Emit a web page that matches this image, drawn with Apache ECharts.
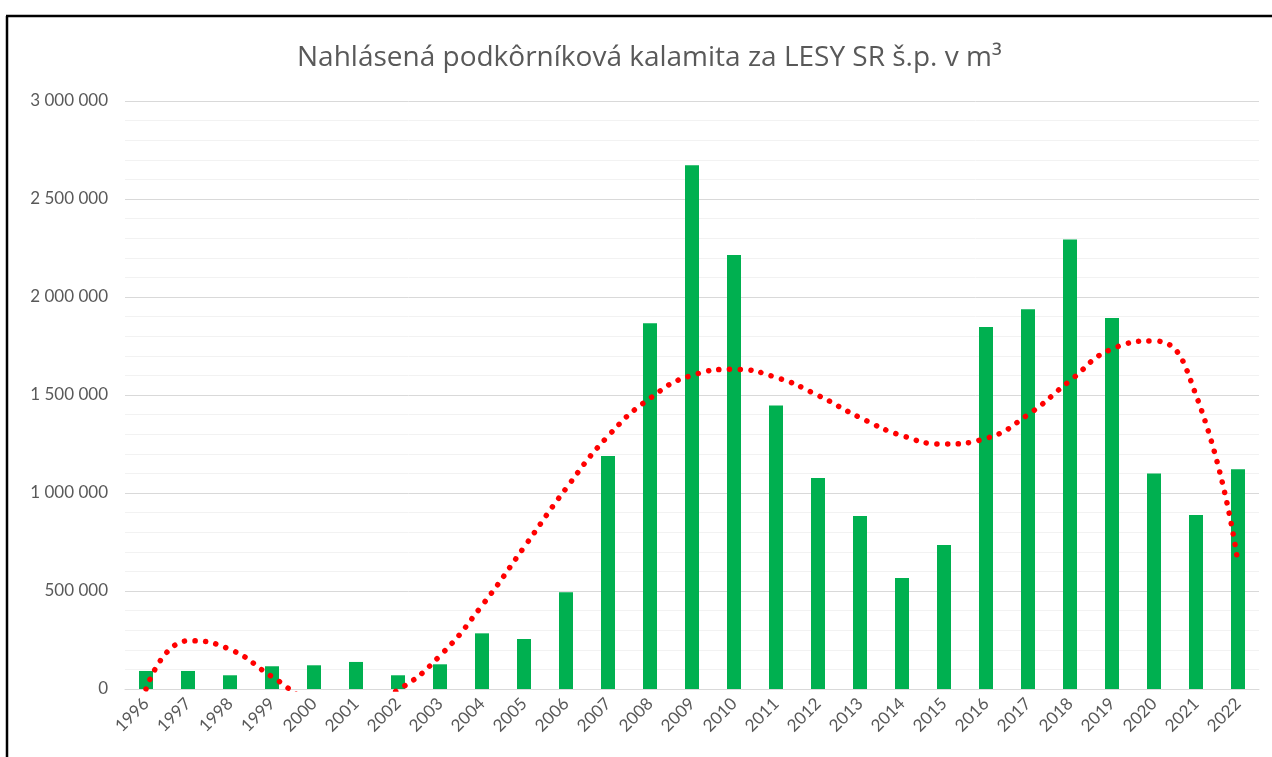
<!DOCTYPE html>
<html>
<head>
<meta charset="utf-8">
<script src="https://cdn.jsdelivr.net/npm/echarts@6/dist/echarts.min.js"></script>
<style>
  html, body { margin: 0; padding: 0; background: #fff; }
  #chart { width: 1272px; height: 757px; }
</style>
</head>
<body>
<div id="chart"></div>
<script>
  // roky
  var years = ['1996', '1997', '1998', '1999', '2000', '2001', '2002', '2003', '2004', '2005',
    '2006', '2007', '2008', '2009', '2010', '2011', '2012', '2013', '2014', '2015',
    '2016', '2017', '2018', '2019', '2020', '2021', '2022']
  // nahlásená kalamita v m3 (odčítané z grafu)
  var kalamita = [92000, 92000, 70000, 116000, 121000, 138000, 70000, 126000, 284000, 255000,
    493000, 1189000, 1866000, 2672000, 2214000, 1447000, 1077000, 883000, 566000, 735000,
    1847000, 1937000, 2294000, 1893000, 1100000, 888000, 1121000]
  // polynomický trend (odčítaný z grafu, pod nulou sa oreže)
  var trend = [0, 246000, 202000, 63000, -65000, -95000, -5000, 170000, 426000, 723000,
    1023000, 1290000, 1483000, 1600000, 1631000, 1590000, 1498000, 1385000, 1293000, 1250000,
    1279000, 1400000, 1573000, 1735000, 1776000, 1500000, 641000]
  var yTicks = [0, 500000, 1000000, 1500000, 2000000, 2500000, 3000000]

  var font = 'Lato, "Noto Sans", sans-serif'
  var textColor = '#595959'

  function fmt (v) {
    return String(v).replace(/\B(?=(\d{3})+(?!\d))/g, ' ')
  }

  var chart = echarts.init(document.getElementById('chart'))
  chart.setOption({
    backgroundColor: '#fff',
    animation: false,
    title: {
      text: 'Nahlásená podkôrníková kalamita za LESY SR š.p. v m³',
      left: 292,
      top: 39,
      textStyle: {
        fontFamily: '"Open Sans", Lato, sans-serif',
        fontWeight: 'normal',
        fontSize: 28,
        color: textColor
      }
    },
    graphic: [
      { type: 'line', shape: { x1: 7, y1: 16, x2: 7, y2: 757 }, style: { stroke: '#000', lineWidth: 2.5 } },
      { type: 'line', shape: { x1: 6, y1: 16, x2: 1272, y2: 16 }, style: { stroke: '#000', lineWidth: 2.5 } }
    ],
    grid: {
      left: 125,
      right: 13,
      top: 101,
      bottom: 68,
      containLabel: false
    },
    xAxis: {
      type: 'category',
      data: years,
      boundaryGap: true,
      axisTick: { show: false },
      axisLine: { show: true, lineStyle: { color: '#d9d9d9', width: 1 } },
      axisLabel: {
        rotate: 45,
        interval: 0,
        margin: 12,
        fontFamily: font,
        fontSize: 17,
        color: textColor
      }
    },
    yAxis: {
      type: 'value',
      min: yTicks[0],
      max: yTicks[yTicks.length - 1],
      interval: 500000,
      axisLine: { show: false },
      axisTick: { show: false },
      axisLabel: {
        margin: 17,
        fontFamily: font,
        fontSize: 17,
        color: textColor,
        formatter: fmt
      },
      splitLine: { show: true, lineStyle: { color: '#d9d9d9', width: 1 } },
      minorTick: { show: false, splitNumber: 5 },
      minorSplitLine: { show: true, lineStyle: { color: '#f2f2f2', width: 1 } }
    },
    series: [
      {
        name: 'kalamita',
        type: 'bar',
        data: kalamita,
        barWidth: 14,
        itemStyle: { color: '#00b050' }
      },
      {
        name: 'trend',
        type: 'line',
        data: trend,
        smooth: 0.5,
        clip: true,
        showSymbol: false,
        symbol: 'none',
        lineStyle: {
          color: '#ff0000',
          width: 5.5,
          type: [0.1, 10.5],
          cap: 'round'
        },
        z: 3
      }
    ]
  })
</script>
</body>
</html>
